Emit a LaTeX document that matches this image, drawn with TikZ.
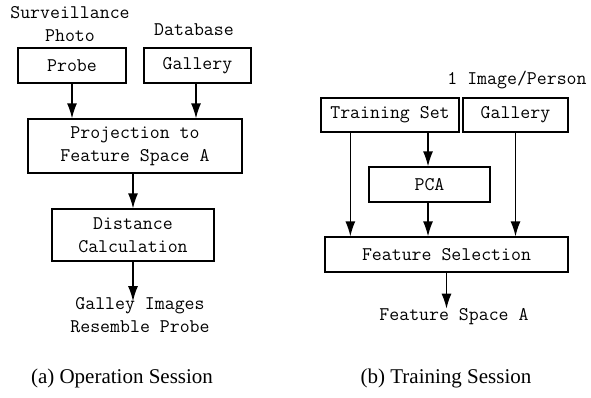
\documentclass[tikz,border=0pt]{standalone}
\usepackage{fontspec}
\newfontfamily\capfont{Liberation Serif}
\usetikzlibrary{arrows.meta}
\tikzset{
  box/.style={draw, line width=1.3pt, inner sep=0pt, align=center,
    font=\ttfamily\fontsize{19.3}{23.5}\selectfont},
  lbl/.style={inner sep=0pt, align=center,
    font=\ttfamily\fontsize{19.3}{23}\selectfont},
  subcap/.style={inner sep=0pt, font=\capfont\fontsize{21}{25}\selectfont},
  flow/.style={line width=1.3pt, -{Latex[length=15pt,width=10pt]}}
}
\begin{document}
\begin{tikzpicture}[x=1pt, y=-1pt]
        \useasboundingbox (0,0) rectangle (591,397);

        % Operation session
        \node[lbl] (survtext) at (70,24) {Surveillance\\Photo};
        \node[lbl] (dbtext) at (194,30) {Database};
        \node[box, minimum width=108pt, minimum height=35pt] (probe) at (72,65.5) {Probe};
        \node[box, minimum width=107pt, minimum height=35pt] (galla) at (197.5,65.5) {Gallery};
        \node[box, minimum width=214pt, minimum height=54pt] (proj) at (135,146) {Projection to\\Feature Space A};
        \node[box, minimum width=162pt, minimum height=52pt] (dist) at (133,235) {Distance\\Calculation};
        \node[lbl] (result) at (140,315) {Galley Images\\Resemble Probe};
        \node[subcap] (capa) at (122,378) {(a) Operation Session};

        \draw[flow] (probe.south) -- (probe.south |- proj.north);
        \draw[flow] ([xshift=-1.5pt]galla.south) -- ([xshift=-1.5pt]galla.south |- proj.north);
        \draw[flow] ([xshift=-2pt]proj.south) -- ([xshift=-2pt]proj.south |- dist.north);
        \draw[flow] (dist.south) -- ([yshift=-4pt]dist.south |- result.north);

        % Training session
        \node[lbl] (pertext) at (517,80) {1 Image/Person};
        \node[box, minimum width=138pt, minimum height=34pt] (train) at (390,115) {Training Set};
        \node[box, minimum width=105pt, minimum height=34pt] (gallb) at (515.5,115) {Gallery};
        \node[box, minimum width=121pt, minimum height=35pt] (pca) at (429.5,184.5) {PCA};
        \node[box, minimum width=243pt, minimum height=35pt] (feat) at (446.5,254.5) {Feature Selection};
        \node[lbl] (space) at (454,317) {Feature Space A};
        \node[subcap] (capb) at (446,378) {(b) Training Session};

        \draw[flow] ([xshift=30pt]train.south west) -- ([xshift=30pt]train.south west |- feat.north);
        \draw[flow] ([xshift=38pt]train.south) -- ([xshift=38pt]train.south |- pca.north);
        \draw[flow] ([xshift=-1.5pt]pca.south) -- ([xshift=-1.5pt]pca.south |- feat.north);
        \draw[flow] (gallb.south) -- (gallb.south |- feat.north);
        \draw[flow] (feat.south) -- (feat.south |- space.north);
\end{tikzpicture}
\end{document}
